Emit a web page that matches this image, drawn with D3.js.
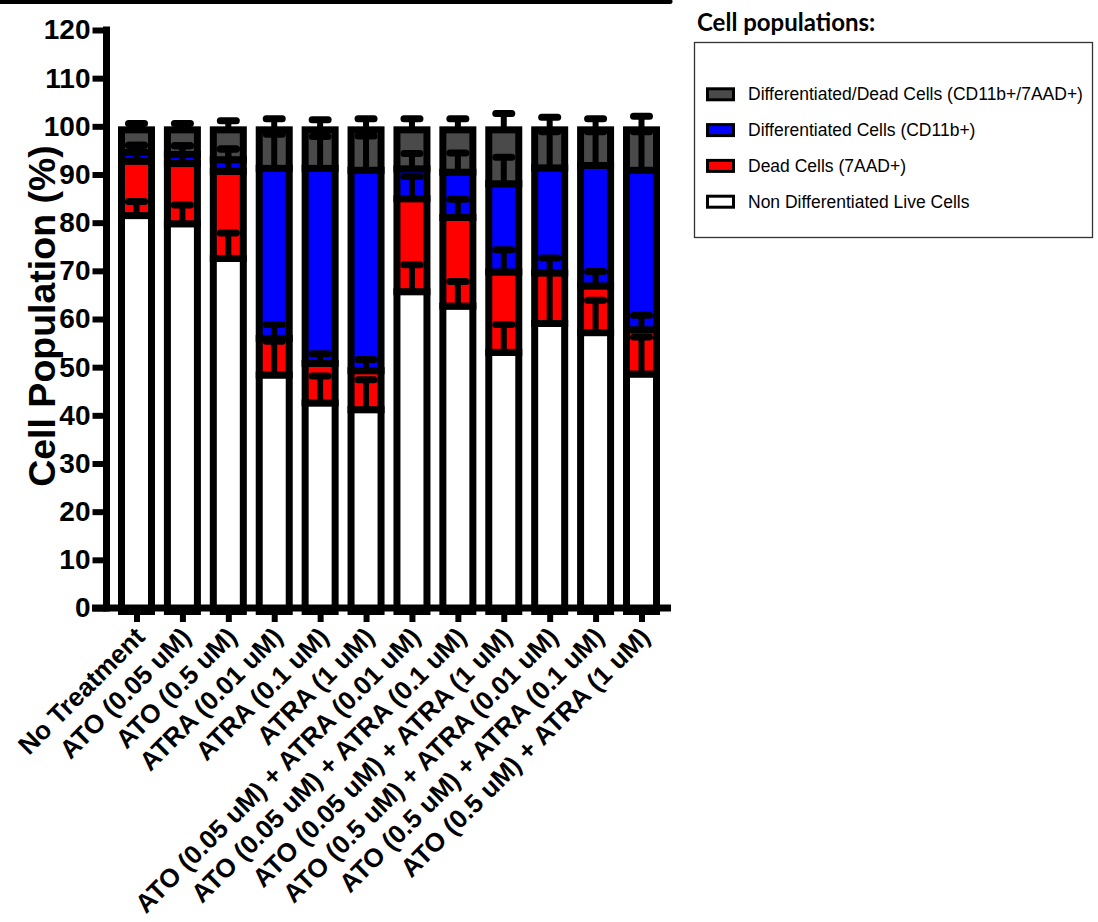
<!DOCTYPE html>
<html>
<head>
<meta charset="utf-8">
<script src="https://cdn.jsdelivr.net/npm/d3@7/dist/d3.min.js"></script>
<style>
  body { margin: 0; background: #fff; }
  svg { display: block; font-family: "Liberation Sans", Arial, sans-serif; }
</style>
</head>
<body>
<svg id="chart"></svg>
<script>
// treatments on the x axis
const categories = [
  "No Treatment",
  "ATO (0.05 uM)",
  "ATO (0.5 uM)",
  "ATRA (0.01 uM)",
  "ATRA (0.1 uM)",
  "ATRA (1 uM)",
  "ATO (0.05 uM) + ATRA (0.01 uM)",
  "ATO (0.05 uM) + ATRA (0.1 uM)",
  "ATO (0.05 uM) + ATRA (1 uM)",
  "ATO (0.5 uM) + ATRA (0.01 uM)",
  "ATO (0.5 uM) + ATRA (0.1 uM)",
  "ATO (0.5 uM) + ATRA (1 uM)"
];

// stacked segments, bottom to top (% of cells)
const liveCells = [82.2, 80.5, 73.3, 49.1, 43.3, 41.9, 66.4, 63.4, 53.8, 59.8, 57.9, 49.3];
const deadCells = [11.3, 12.5, 18.1, 7.6, 8.2, 8.1, 19.3, 18.4, 16.7, 10.5, 9.7, 9.2];
const diffCells = [1.8, 1.9, 2.4, 35.3, 40.5, 41.6, 6.2, 9.4, 18.3, 21.8, 25.0, 33.1];
const diffDeadCells = [4.7, 5.1, 6.2, 8.0, 8.0, 8.4, 8.1, 8.8, 11.2, 7.9, 7.4, 8.4];

// error bars (SD, drawn upward from each segment top)
const liveErr = [2.9, 3.9, 5.3, 7.0, 5.6, 6.2, 5.6, 5.1, 5.8, 10.6, 6.7, 7.7];
const deadErr = [3.3, 3.7, 4.6, 2.9, 2.0, 2.3, 4.6, 3.8, 4.6, 3.1, 3.0, 3.0];
const diffErr = [1.5, 1.8, 2.2, 7.1, 6.6, 7.1, 3.2, 4.0, 5.5, 7.5, 7.0, 8.0];
const diffDeadErr = [1.3, 1.3, 1.9, 2.3, 2.1, 2.3, 2.3, 2.3, 3.4, 2.6, 2.3, 2.8];

const yTicks = [0, 10, 20, 30, 40, 50, 60, 70, 80, 90, 100, 110, 120];

const seriesNames = [
  "Non Differentiated Live Cells",
  "Dead Cells (7AAD+)",
  "Differentiated Cells (CD11b+)",
  "Differentiated/Dead Cells (CD11b+/7AAD+)"
];
const seriesColors = ["#ffffff", "#ff0000", "#0000ff", "#4a4a4a"];

const width = 1098;
const height = 922;

const svg = d3.select("#chart").attr("width", width).attr("height", height);

// stray line from the panel above
svg.append("line")
  .attr("x1", -5).attr("x2", 670)
  .attr("y1", 1.5).attr("y2", 1.5)
  .attr("stroke", "#000").attr("stroke-width", 5)
  .attr("stroke-linecap", "round");

const x = d3.scalePoint().domain(categories).range([136.5, 641.5]);
const y = d3.scaleLinear().domain([0, 120]).range([608, 30]);

const barW = 30;

// build stack rows
const rows = categories.map((c, i) => ({
  cat: c,
  values: [liveCells[i], deadCells[i], diffCells[i], diffDeadCells[i]],
  errs: [liveErr[i], deadErr[i], diffErr[i], diffDeadErr[i]]
}));

const bars = svg.append("g").attr("transform", "translate(0,3.5)");

rows.forEach((r) => {
  let base = 0;
  const tops = [];
  r.values.forEach((v, k) => {
    bars.append("rect")
      .attr("x", x(r.cat) - barW / 2)
      .attr("width", barW)
      .attr("y", y(base + v))
      .attr("height", y(base) - y(base + v))
      .attr("fill", seriesColors[k])
      .attr("stroke", "#000")
      .attr("stroke-width", 7);
    base += v;
    tops.push(base);
  });
  r.tops = tops;
});

// error bars go on top of all the bars
rows.forEach((r) => {
  r.tops.forEach((t, k) => {
    const cx = x(r.cat);
    bars.append("line")
      .attr("x1", cx).attr("x2", cx)
      .attr("y1", y(t)).attr("y2", y(t + r.errs[k]))
      .attr("stroke", "#000").attr("stroke-width", 6);
    bars.append("line")
      .attr("x1", cx - 8).attr("x2", cx + 8)
      .attr("y1", y(t + r.errs[k])).attr("y2", y(t + r.errs[k]))
      .attr("stroke", "#000").attr("stroke-width", 7)
      .attr("stroke-linecap", "round");
  });
});

// y axis
const yAxis = svg.append("g")
  .attr("transform", "translate(106.5,0)")
  .call(d3.axisLeft(y).tickValues(yTicks).tickSize(14).tickSizeOuter(0).tickPadding(2));
yAxis.select(".domain").attr("stroke-width", 7).attr("d", "M0,611.5V26.5");
yAxis.selectAll(".tick line").attr("stroke-width", 6);
yAxis.selectAll(".tick text")
  .attr("font-size", 28).attr("font-weight", "bold").attr("fill", "#000");

// x axis
const xAxis = svg.append("g")
  .attr("transform", "translate(0,608)")
  .call(d3.axisBottom(x).tickSize(14).tickSizeOuter(0));
xAxis.select(".domain").remove();
xAxis.selectAll(".tick line").attr("stroke-width", 6);
xAxis.selectAll(".tick text")
  .attr("x", 0).attr("y", 0).attr("dy", "0.35em")
  .attr("text-anchor", "end")
  .attr("transform", "translate(3,24) rotate(-45)")
  .attr("font-size", 26).attr("font-weight", "bold").attr("fill", "#000");
xAxis.append("line")
  .attr("x1", 92).attr("x2", 671)
  .attr("y1", 0).attr("y2", 0)
  .attr("stroke", "#000").attr("stroke-width", 7);

// y axis title
svg.append("text")
  .attr("transform", "translate(55,316) rotate(-90)")
  .attr("text-anchor", "middle")
  .attr("font-size", 37.5).attr("font-weight", "bold")
  .text("Cell Population (%)");

// legend
const legend = svg.append("g");
legend.append("text")
  .attr("x", 697).attr("y", 31)
  .attr("font-family", "Lato, 'Open Sans', sans-serif")
  .attr("font-size", 24).attr("font-weight", "bold")
  .text("Cell populations:");
legend.append("rect")
  .attr("x", 694.5).attr("y", 42.5)
  .attr("width", 398).attr("height", 195)
  .attr("fill", "none").attr("stroke", "#333").attr("stroke-width", 1.3);

const legendOrder = [3, 2, 1, 0];
legendOrder.forEach((k, j) => {
  const cy = 94.3 + j * 35.8;
  legend.append("rect")
    .attr("x", 707.5).attr("y", cy - 5.5)
    .attr("width", 26).attr("height", 11)
    .attr("fill", seriesColors[k])
    .attr("stroke", "#000").attr("stroke-width", 3);
  legend.append("text")
    .attr("x", 748).attr("y", cy).attr("dy", "0.35em")
    .attr("font-size", 17.5)
    .text(seriesNames[k]);
});
</script>
</body>
</html>
